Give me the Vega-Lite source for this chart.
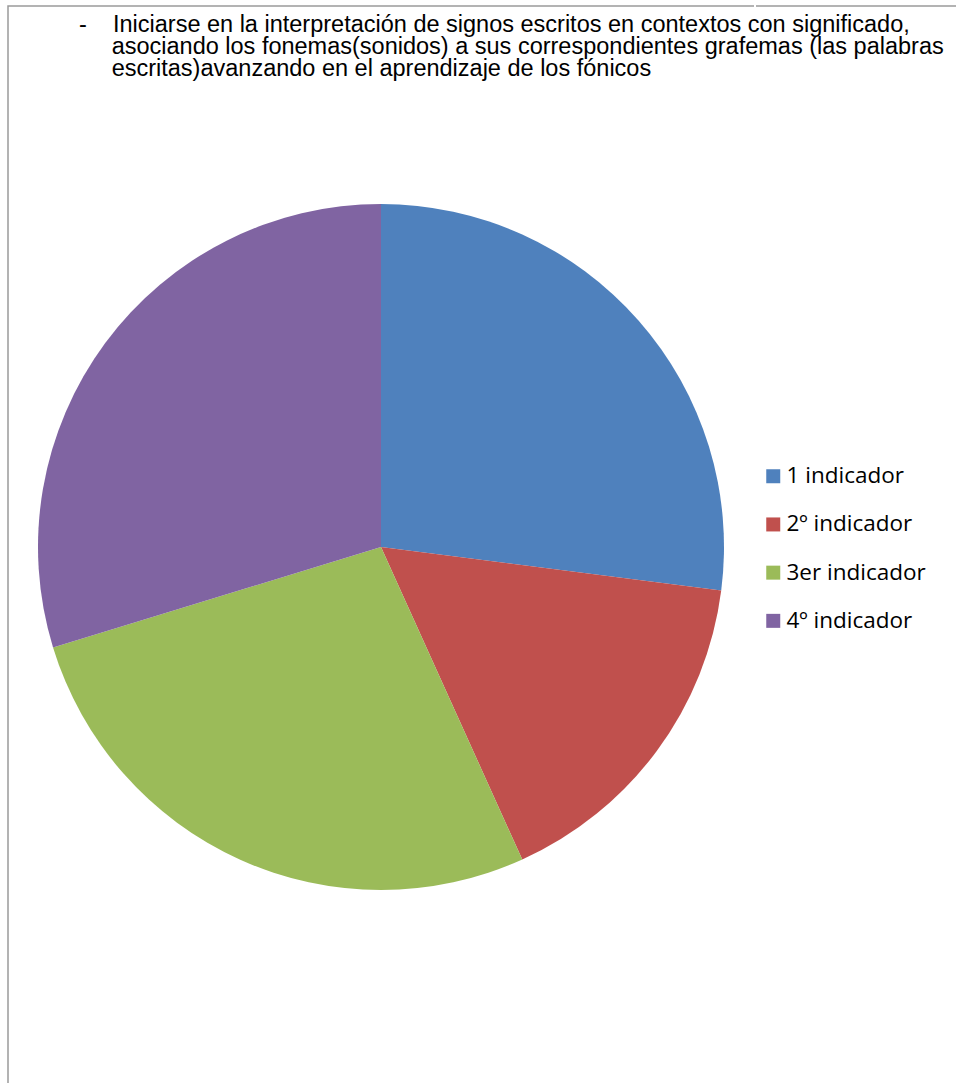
{
  "$schema": "https://vega.github.io/schema/vega-lite/v6.json",
  "autosize": {"type": "pad"},
  "padding": {"left": 7, "top": 5, "right": 0, "bottom": 0},
  "background": "white",
  "title": {
    "text": [
      "-\u00a0\u00a0\u00a0\u00a0Iniciarse en la interpretación de signos escritos en contextos con significado,",
      "\u200b\u00a0\u00a0\u00a0\u00a0\u00a0asociando los fonemas(sonidos) a sus correspondientes grafemas (las palabras",
      "\u200b\u00a0\u00a0\u00a0\u00a0\u00a0escritas)avanzando en el aprendizaje de los fónicos"
    ],
    "anchor": "start",
    "frame": "group",
    "orient": "top",
    "baseline": "alphabetic",
    "offset": 0,
    "dx": 71,
    "dy": 94.7,
    "font": "Liberation Sans",
    "fontSize": 23.5,
    "fontWeight": "normal",
    "lineHeight": 22.2,
    "color": "#000000"
  },
  "spacing": 0,
  "hconcat": [
    {
      "width": 746,
      "height": 1082,
      "view": {"stroke": "#9a9a9a", "strokeWidth": 1.5, "strokeDash": [746, 1828, 1082, 10]},
      "data": {
        "values": [
          {"indicador": "1 indicador", "orden": 1, "cantidad": 10},
          {"indicador": "2º indicador", "orden": 2, "cantidad": 6},
          {"indicador": "3er indicador", "orden": 3, "cantidad": 10},
          {"indicador": "4º indicador", "orden": 4, "cantidad": 11}
        ]
      },
      "mark": {"type": "arc", "outerRadius": 343, "strokeWidth": 0},
      "encoding": {
        "theta": {"field": "cantidad", "type": "quantitative", "stack": true},
        "order": {"field": "orden", "type": "quantitative"},
        "color": {
          "field": "indicador",
          "type": "nominal",
          "scale": {
            "domain": ["1 indicador", "2º indicador", "3er indicador", "4º indicador"],
            "range": ["#4F81BD", "#C0504D", "#9BBB59", "#8064A2"]
          },
          "legend": {
            "orient": "none",
            "legendX": 754,
            "legendY": 459,
            "title": null,
            "symbolType": "square",
            "symbolSize": 196,
            "symbolStrokeWidth": 0,
            "labelFont": "Open Sans",
            "labelFontSize": 22.5,
            "labelColor": "#000000",
            "labelOffset": 2,
            "rowPadding": 25.2,
            "padding": 0
          }
        }
      }
    },
    {
      "width": 220,
      "height": 1082,
      "view": {"stroke": "#9a9a9a", "strokeWidth": 1.5, "strokeDash": [220, 5000]},
      "data": {"values": []},
      "mark": {"type": "point", "opacity": 0}
    }
  ]
}
